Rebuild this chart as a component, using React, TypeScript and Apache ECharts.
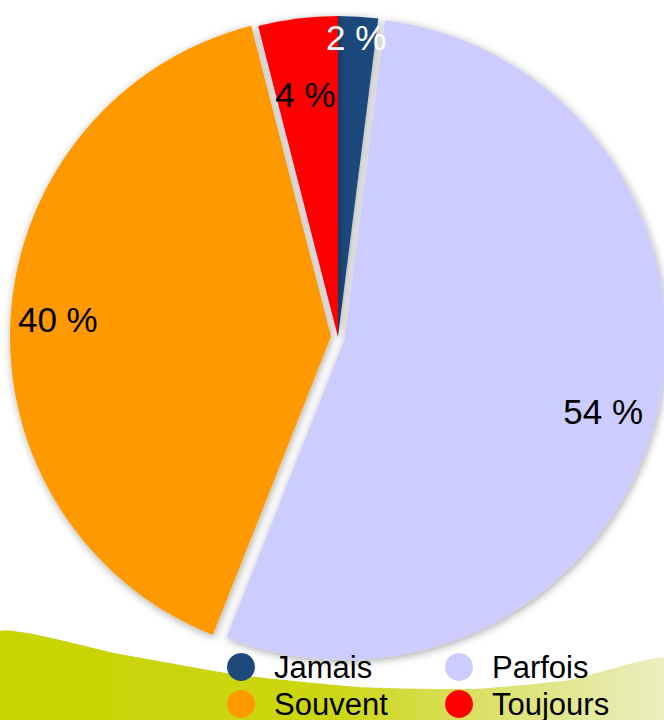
import React, { useEffect, useRef } from "react";
import * as echarts from "echarts";

const categories = ["Jamais", "Parfois", "Souvent", "Toujours"];
const values = [2, 54, 40, 4];
const colors = ["#1F497D", "#CCCCFF", "#FF9900", "#FF0000"];
const labelColors = ["#FFFFFF", "#000000", "#000000", "#000000"];
const exploded = [false, true, true, false];
// label nudges (pixels) relative to the default inside position
const labelShift = [
  [8, -136],
  [100, 32],
  [-110, -7],
  [-12, -80],
];

export default function App() {
  const ref = useRef<HTMLDivElement>(null);
  useEffect(() => {
    const chart = echarts.init(ref.current!, null, { renderer: "svg" });
    const font = "'Liberation Sans', Arial, sans-serif";
    const legendBase = {
      orient: "vertical",
      top: 651,
      height: 80,
      padding: 0,
      icon: "circle",
      itemWidth: 28,
      itemHeight: 28,
      itemGap: 5,
      selectedMode: false,
      itemStyle: { shadowBlur: 0, shadowColor: "transparent" },
      textStyle: {
        fontFamily: font,
        fontSize: 31,
        lineHeight: 32,
        color: "#000000",
        padding: [0, 0, 0, 14],
      },
    };
    chart.setOption({
      animation: false,
      backgroundColor: "#FFFFFF",
      graphic: [
        {
          type: "polygon",
          z: -10,
          silent: true,
          shape: {
            points: [
              [0, 631],
              [120, 654],
              [240, 675],
              [360, 687],
              [470, 689],
              [570, 680],
              [664, 658],
              [664, 720],
              [0, 720],
            ],
            smooth: 0.15,
          },
          style: {
            fill: {
              type: "linear",
              x: 0,
              y: 0,
              x2: 1,
              y2: 0,
              colorStops: [
                { offset: 0, color: "#C8D400" },
                { offset: 0.5, color: "#CCD612" },
                { offset: 0.75, color: "#DCE270" },
                { offset: 1, color: "#ECEEC4" },
              ],
            },
            shadowBlur: 10,
            shadowColor: "rgba(255,255,255,0.9)",
          },
        },
      ],
      legend: [
        { ...legendBase, left: 227, data: [categories[0], categories[2]] },
        { ...legendBase, left: 445, data: [categories[1], categories[3]] },
      ],
      series: [
        {
          type: "pie",
          center: [338, 337],
          radius: [0, 321],
          startAngle: 90,
          clockwise: true,
          selectedMode: "multiple",
          selectedOffset: 7,
          avoidLabelOverlap: false,
          itemStyle: {
            shadowBlur: 8,
            shadowColor: "rgba(0,0,0,0.35)",
            shadowOffsetX: 1,
            shadowOffsetY: 2,
          },
          label: {
            show: true,
            position: "inside",
            formatter: (p: any) => `${p.value} %`,
            fontFamily: font,
            fontSize: 35,
          },
          labelLine: { show: false },
          emphasis: { disabled: true },
          labelLayout: (p: any) => ({
            dx: labelShift[p.dataIndex][0],
            dy: labelShift[p.dataIndex][1],
          }),
          data: categories.map((name, i) => ({
            name,
            value: values[i],
            selected: exploded[i],
            itemStyle: { color: colors[i] },
            label: { color: labelColors[i] },
            select: {
              itemStyle: { color: colors[i] },
              label: { color: labelColors[i] },
            },
          })),
        },
      ],
    });
    return () => chart.dispose();
  }, []);
  return (
    <div
      ref={ref}
      style={{ position: "fixed", left: 0, top: 0, width: 664, height: 720 }}
    />
  );
}
